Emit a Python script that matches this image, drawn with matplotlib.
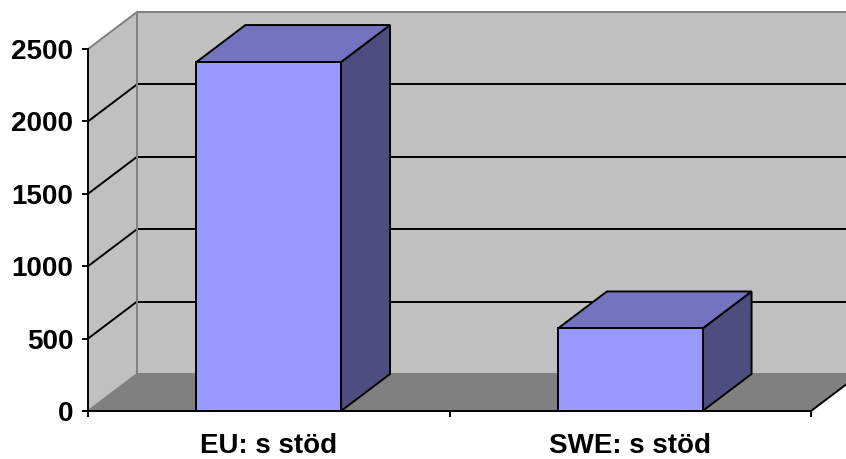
import matplotlib
matplotlib.use("Agg")
import matplotlib.pyplot as plt
from matplotlib.patches import Polygon

categories = ["EU: s stöd", "SWE: s stöd"]
values = [2410, 570]
y_ticks = [0, 500, 1000, 1500, 2000, 2500]

WALL = "#C0C0C0"
FLOOR = "#808080"
EDGE_GRAY = "#808080"
FRONT = "#9999FF"
TOP = "#7373BF"
SIDE = "#4D4D80"

W, H = 846, 459
fig = plt.figure(figsize=(W / 100, H / 100), dpi=100)
fig.patch.set_facecolor("white")

# front plane of the value axis
left_px, right_px, bot_px, top_px = 88, 811, 411, 49
ax = fig.add_axes([left_px / W, (H - bot_px) / H,
                   (right_px - left_px) / W, (bot_px - top_px) / H])
ax.set_xlim(-0.5, 1.5)
ax.set_ylim(0, 2500)
ax.patch.set_visible(False)

# depth offset of the 3-D box, in data units
DX = 49 / ((right_px - left_px) / 2.0)
DY = 2500 * 37 / (bot_px - top_px)
ymax = y_ticks[-1]
x0, x1 = -0.5, 1.5

def poly(pts, fc, ec="none", lw=0, z=1):
    p = Polygon(pts, closed=True, facecolor=fc, edgecolor=ec, linewidth=lw,
                zorder=z, clip_on=False, joinstyle="miter")
    ax.add_patch(p)

# walls and floor
poly([(x0 + DX, DY), (x1 + DX, DY), (x1 + DX, ymax + DY), (x0 + DX, ymax + DY)], WALL, z=1)
poly([(x0, 0), (x0 + DX, DY), (x0 + DX, ymax + DY), (x0, ymax)], WALL, z=1)
poly([(x0, 0), (x1, 0), (x1 + DX, DY), (x0 + DX, DY)], FLOOR, z=2)

lw = 1.4
# gridlines on back and side walls
for t in y_ticks[1:-1]:
    ax.plot([x0 + DX, x1 + DX], [t + DY, t + DY], color="black", lw=lw, zorder=1.5, clip_on=False)
    ax.plot([x0, x0 + DX], [t, t + DY], color="black", lw=lw, zorder=1.5, clip_on=False)

# wall edges
ax.plot([x0 + DX, x0 + DX], [DY, ymax + DY], color=EDGE_GRAY, lw=lw, zorder=2.5, clip_on=False)
ax.plot([x0 + DX, x1 + DX], [ymax + DY, ymax + DY], color=EDGE_GRAY, lw=lw, zorder=2.5, clip_on=False)
ax.plot([x0, x0 + DX], [ymax, ymax + DY], color=EDGE_GRAY, lw=lw, zorder=2.5, clip_on=False)
ax.plot([x0 + DX, x1 + DX], [DY, DY], color=EDGE_GRAY, lw=lw, zorder=2.5, clip_on=False)
ax.plot([x0, x0 + DX], [0, DY], color=EDGE_GRAY, lw=lw, zorder=2.5, clip_on=False)
ax.plot([x1, x1 + DX], [0, DY], color="black", lw=lw, zorder=2.5, clip_on=False)

# 3-D bars
bw = 0.4
for i, v in enumerate(values):
    a, b = i - bw / 2, i + bw / 2
    poly([(b, 0), (b + DX, DY), (b + DX, v + DY), (b, v)], SIDE, "black", lw, z=3)
    poly([(a, v), (b, v), (b + DX, v + DY), (a + DX, v + DY)], TOP, "black", lw, z=3)
    poly([(a, 0), (b, 0), (b, v), (a, v)], FRONT, "black", lw, z=3)

# axes styling
for s in ["top", "right"]:
    ax.spines[s].set_visible(False)
for s in ["left", "bottom"]:
    ax.spines[s].set_color("black")
    ax.spines[s].set_linewidth(lw)
    ax.spines[s].set_zorder(4)

font = dict(family="Liberation Sans", weight="bold", size=20)
ax.set_yticks(y_ticks)
ax.set_yticklabels([str(t) for t in y_ticks], fontdict=font)
ax.tick_params(axis="y", direction="out", length=4.5, width=lw, pad=6, color="black")

ax.set_xticks(range(len(categories)))
ax.set_xticklabels(categories, fontdict=font)
ax.set_xticks([-0.5, 0.5, 1.5], minor=True)
ax.tick_params(axis="x", which="major", length=0, pad=16)
ax.tick_params(axis="x", which="minor", direction="out", length=4.5, width=lw, color="black")

fig.savefig("out.png", dpi=100, facecolor="white")
